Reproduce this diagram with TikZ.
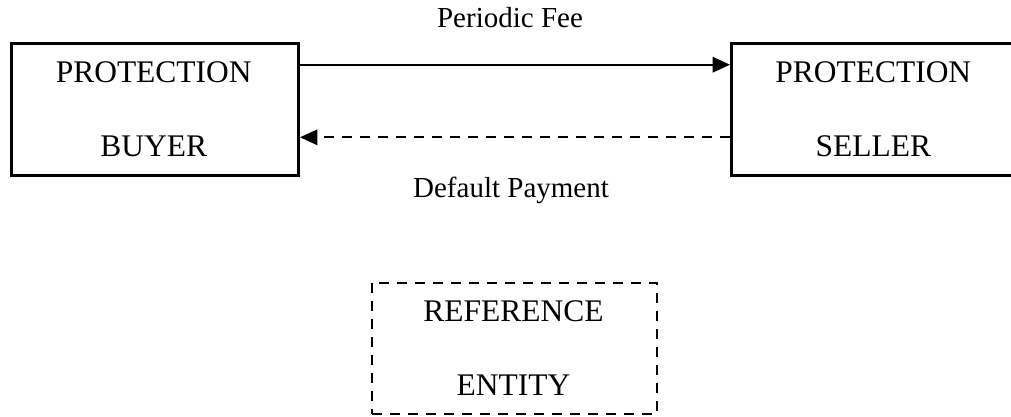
\documentclass[tikz,border=0pt]{standalone}
\usepackage{fontspec}
\setmainfont{Liberation Serif}
\usetikzlibrary{arrows.meta}
\begin{document}
\begin{tikzpicture}[x=0.75pt,y=-0.75pt,
  party/.style={draw, line width=2pt, minimum width=215.5pt, minimum height=99pt,
    inner sep=0pt, anchor=north west},
  refbox/.style={draw, line width=1.6pt, dash pattern=on 7.5pt off 6pt,
    minimum width=213.75pt, minimum height=98.5pt, inner sep=0pt, anchor=north west},
  boxtext/.style={anchor=base, inner sep=0pt, font=\fontsize{23.6}{28}\selectfont},
  flowlabel/.style={anchor=base, inner sep=0pt, font=\fontsize{21.75}{26}\selectfont},
  flow/.style={line width=1.6pt, -{Triangle[length=13pt,width=11.5pt]}},
  dashedflow/.style={flow, dash pattern=on 7.5pt off 6pt}]
\useasboundingbox (0,0) rectangle (1011,417);

% counterparties
\node[party] (buyer) at (10,42) {};
\node[party] (seller) at (730,42) {};
\node[boxtext] (buyerA) at (153.7,82.7) {PROTECTION};
\node[boxtext] (buyerB) at (153.7,156.7) {BUYER};
\node[boxtext] (sellerA) at (873.3,82.7) {PROTECTION};
\node[boxtext] (sellerB) at (873.3,156.7) {SELLER};

% reference entity
\node[refbox] (ref) at (371,281.7) {};
\node[boxtext] (refA) at (513.5,321.7) {REFERENCE};
\node[boxtext] (refB) at (513.5,395.7) {ENTITY};

% cash flows
\coordinate (feeLevel) at (0,64.7);
\coordinate (payLevel) at (0,137.3);
\draw[flow] (buyer.east |- feeLevel) -- (seller.west |- feeLevel);
\draw[dashedflow] (seller.west |- payLevel) -- (buyer.east |- payLevel);
\node[flowlabel] (fee) at (510,28) {Periodic Fee};
\node[flowlabel] (pay) at (511,198) {Default Payment};
\end{tikzpicture}
\end{document}
